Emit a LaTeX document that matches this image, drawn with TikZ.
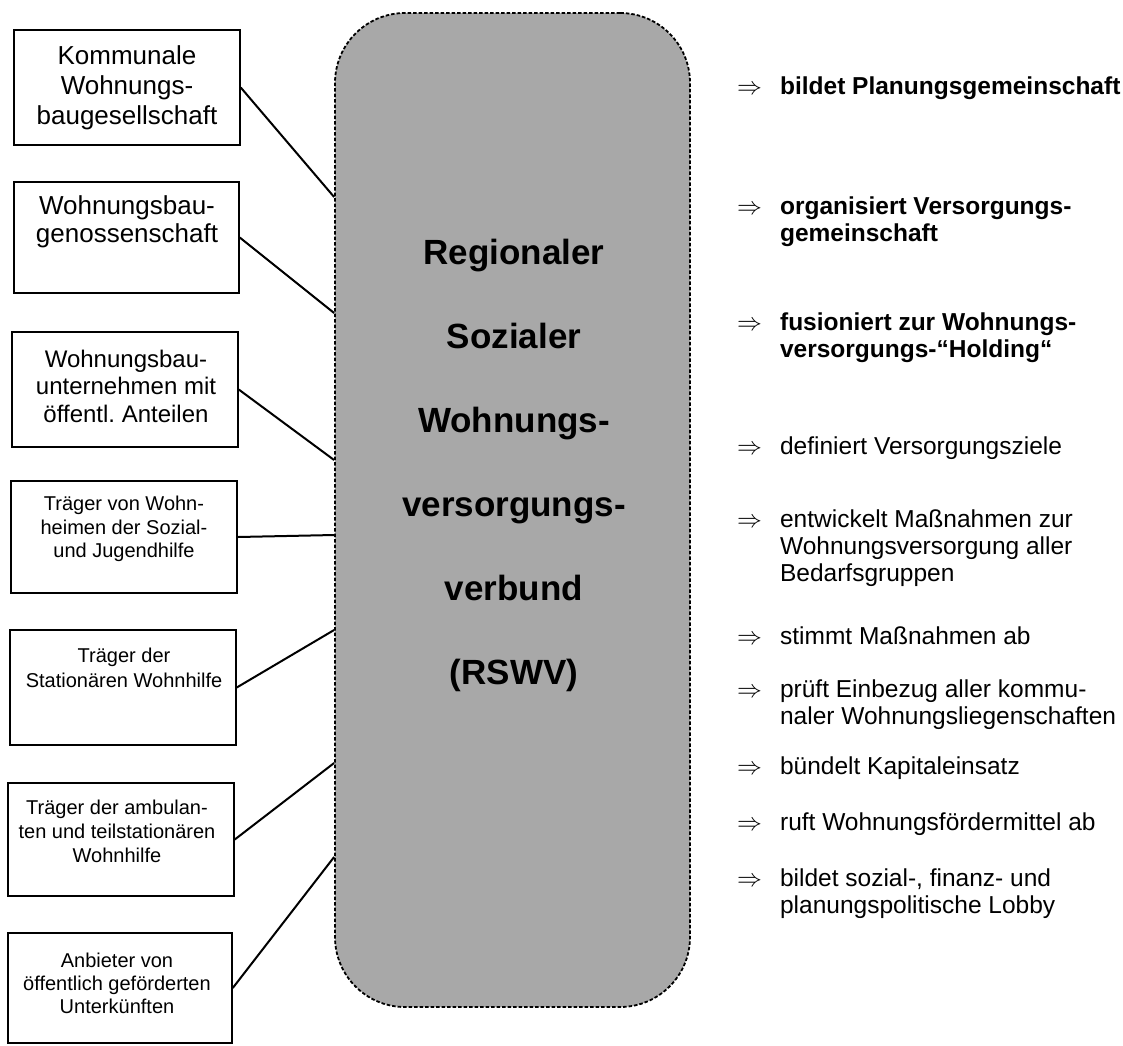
\documentclass[tikz,border=0pt]{standalone}
\usepackage{fontspec}
\setmainfont{Liberation Sans}
\definecolor{hubgray}{gray}{0.66}
\begin{document}
\begin{tikzpicture}[x=1pt,y=-1pt,
  box/.style={draw=black, line width=1.5pt, fill=white, inner sep=0pt},
  boxtext/.style={align=center, inner sep=0pt},
  link/.style={draw=black, line width=2pt},
  hub/.style={draw=black, line width=1.8pt, dash pattern=on 3.5pt off 2pt,
    fill=hubgray, rounded corners=70pt, inner sep=0pt},
  point/.style={anchor=base west, inner sep=0pt, font=\fontsize{24.5}{27}\selectfont},
]
\useasboundingbox[fill=white] (0,0) rectangle (1123,1045);

% central association
\node[hub, minimum width=355pt, minimum height=994pt] (hub) at (512.5,510) {};
\node[align=center, inner sep=0pt, font=\bfseries\fontsize{35}{84}\selectfont]
  (title) at (514,465) {Regionaler\\Sozialer\\Wohnungs-\\versorgungs-\\verbund\\(RSWV)};

% member organisations
\node[box, minimum width=226pt, minimum height=115pt] (b1) at (127,87.5) {};
\node[boxtext, font=\fontsize{26}{30}\selectfont] (t1) at (127,88)
  {Kommunale\\Wohnungs-\\baugesellschaft};

\node[box, minimum width=225pt, minimum height=111pt] (b2) at (126.5,237.5) {};
\node[boxtext, font=\fontsize{26}{27.5}\selectfont] (t2) at (127,222)
  {Wohnungsbau-\\genossenschaft};

\node[box, minimum width=226pt, minimum height=115pt] (b3) at (125,389.5) {};
\node[boxtext, font=\fontsize{24}{27.5}\selectfont] (t3) at (126,386)
  {Wohnungsbau-\\unternehmen mit\\öffentl.\ Anteilen};

\node[box, minimum width=226pt, minimum height=112pt] (b4) at (124,537) {};
\node[boxtext, font=\fontsize{20}{23.5}\selectfont] (t4) at (124,529)
  {Träger von Wohn-\\heimen der Sozial-\\und Jugendhilfe};

\node[box, minimum width=226pt, minimum height=115pt] (b5) at (123,687.5) {};
\node[boxtext, font=\fontsize{20}{25}\selectfont] (t5) at (124,668)
  {Träger der\\Stationären Wohnhilfe};

\node[box, minimum width=226pt, minimum height=113pt] (b6) at (121,839.5) {};
\node[boxtext, font=\fontsize{20}{24}\selectfont] (t6) at (117,831)
  {Träger der ambulan-\\ten und teilstationären\\Wohnhilfe};

\node[box, minimum width=224pt, minimum height=110pt] (b7) at (120,988) {};
\node[boxtext, font=\fontsize{20}{23}\selectfont] (t7) at (117,983)
  {Anbieter von\\öffentlich geförderten\\Unterkünften};

% attachment points on the border of the association
\coordinate (h1) at (hub.west |- 0,197);
\coordinate (h2) at (hub.west |- 0,313);
\coordinate (h3) at (hub.west |- 0,460);
\coordinate (h4) at (hub.west |- 0,535);
\coordinate (h5) at (hub.west |- 0,630);
\coordinate (h6) at (hub.west |- 0,763);
\coordinate (h7) at (hub.west |- 0,857);

\draw[link] (b1.east) -- (h1);
\draw[link] (b2.east) -- (h2);
\draw[link] (b3.east) -- (h3);
\draw[link] (b4.east) -- (h4);
\draw[link] (b5.east) -- (h5);
\draw[link] (b6.east) -- (h6);
\draw[link] (b7.east) -- (h7);

% tasks of the association
\newcommand\task[1]{$\Rightarrow$\hspace{18pt}\parbox[t]{345pt}{\raggedright #1}}
\node[point] (p1) at (737,94) {\task{\bfseries bildet Planungsgemeinschaft}};
\node[point] (p2) at (737,214) {\task{\bfseries organisiert Versorgungs-\\gemeinschaft}};
\node[point] (p3) at (737,330) {\task{\bfseries fusioniert zur Wohnungs-\\versorgungs-“Holding“}};
\node[point] (p4) at (737,454) {\task{definiert Versorgungsziele}};
\node[point] (p5) at (737,527) {\task{entwickelt Maßnahmen zur\\Wohnungsversorgung aller\\Bedarfsgruppen}};
\node[point] (p6) at (737,644) {\task{stimmt Maßnahmen ab}};
\node[point] (p7) at (737,697) {\task{prüft Einbezug aller kommu-\\naler Wohnungsliegenschaften}};
\node[point] (p8) at (737,774) {\task{bündelt Kapitaleinsatz}};
\node[point] (p9) at (737,830) {\task{ruft Wohnungsfördermittel ab}};
\node[point] (p10) at (737,886) {\task{bildet sozial-, finanz- und\\planungspolitische Lobby}};
\end{tikzpicture}
\end{document}
